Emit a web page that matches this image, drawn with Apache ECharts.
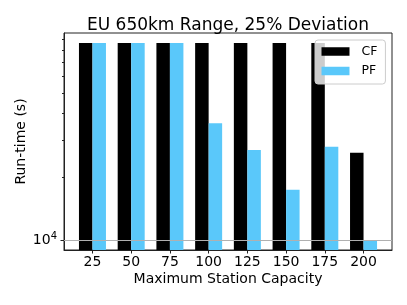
<!DOCTYPE html>
<html><head><meta charset="utf-8">
<script src="https://cdn.jsdelivr.net/npm/echarts@6/dist/echarts.min.js"></script>
<style>html,body{margin:0;padding:0;background:#fff}#c{width:407px;height:305px}</style>
</head><body><div id="c"></div>
<script>
var capacities = ['25','50','75','100','125','150','175','200'];
var cfValues = [86400, 86400, 86400, 86400, 86400, 86400, 86400, 26060];
var pfValues = [86400, 86400, 86400, 35940, 26850, 17390, 27820, 9980];
var yMajorTicks = [10000];
var yMinorTicks = [20000, 30000, 40000, 50000, 60000, 70000, 80000, 90000];

var FONT = 'DejaVu Sans';
var idx = capacities.map(function(c, i){ return i; });
var chart = echarts.init(document.getElementById('c'), null, {renderer:'canvas'});
chart.setOption({
  animation: false,
  backgroundColor: '#fff',
  title: {
    text: 'EU 650km Range, 25% Deviation',
    left: 228, textAlign: 'center', top: 17, padding: 0,
    textStyle: {fontFamily: FONT, fontSize: 17, fontWeight: 'normal', color: '#000'}
  },
  legend: {
    orient: 'vertical', left: 315, top: 40,
    data: ['CF', 'PF'],
    icon: 'rect', itemWidth: 28, itemHeight: 8.5, itemGap: 6.5,
    padding: [5, 8, 6.5, 6.5],
    backgroundColor: 'rgba(255,255,255,0.8)', borderColor: '#ccc', borderWidth: 1, borderRadius: 3,
    textStyle: {fontFamily: FONT, fontSize: 12.5, color: '#000', padding: [0, 0, 0, 7]}
  },
  grid: {left: 64, top: 33, width: 328, height: 217, show: true, borderColor: '#222', borderWidth: 1, backgroundColor: 'transparent', containLabel: false},
  xAxis: {
    type: 'value', min: -0.735, max: 7.735,
    name: 'Maximum Station Capacity', nameLocation: 'middle', nameGap: 22, nameMoveOverlap: false,
    nameTextStyle: {fontFamily: FONT, fontSize: 14, color: '#000'},
    axisLine: {show: true, onZero: false, lineStyle: {color: '#222', width: 1}},
    axisTick: {show: true, customValues: idx, length: 3.5, lineStyle: {color: '#222'}},
    axisLabel: {customValues: idx, margin: 5, fontFamily: FONT, fontSize: 14, color: '#000',
      formatter: function(v){ return capacities[Math.round(v)]; }},
    splitLine: {show: false}
  },
  yAxis: [{
    type: 'log', min: 9000, max: 96500,
    name: 'Run-time (s)', nameLocation: 'middle', nameGap: 36, nameMoveOverlap: false,
    nameTextStyle: {fontFamily: FONT, fontSize: 14, color: '#000'},
    axisLine: {show: true, onZero: false, lineStyle: {color: '#222', width: 1}},
    axisTick: {show: true, customValues: yMajorTicks, length: 3.5, lineStyle: {color: '#222'}},
    axisLabel: {customValues: yMajorTicks, margin: 7, color: '#000',
      formatter: function(v){ return '{a|10}{b|' + Math.round(Math.log10(v)) + '}'; },
      rich: {a: {fontFamily: FONT, fontSize: 14, color: '#000'}, b: {fontFamily: FONT, fontSize: 10, color: '#000', verticalAlign: 'top', padding: [0,0,7,0]}}},
    splitLine: {show: false}
  }, {
    type: 'log', min: 9000, max: 96500, position: 'left',
    axisLine: {show: false, onZero: false},
    axisTick: {show: true, customValues: yMinorTicks, length: 2, lineStyle: {color: '#222'}},
    axisLabel: {show: false},
    splitLine: {show: false}
  }],
  series: [{
    name: 'CF', type: 'bar', yAxisIndex: 0,
    data: cfValues.map(function(v, i){ return [i, v]; }),
    barWidth: 13.5, barGap: '0%',
    itemStyle: {color: '#000000'},
    markLine: {silent: true, symbol: 'none', label: {show: false},
      lineStyle: {color: '#b0b0b0', type: 'solid', width: 1},
      data: [{yAxis: yMajorTicks[0]}]}
  }, {
    name: 'PF', type: 'bar', yAxisIndex: 0,
    data: pfValues.map(function(v, i){ return [i, v]; }),
    barWidth: 13.5, barGap: '0%',
    itemStyle: {color: '#5ac8fa'}
  }]
});
</script></body></html>
